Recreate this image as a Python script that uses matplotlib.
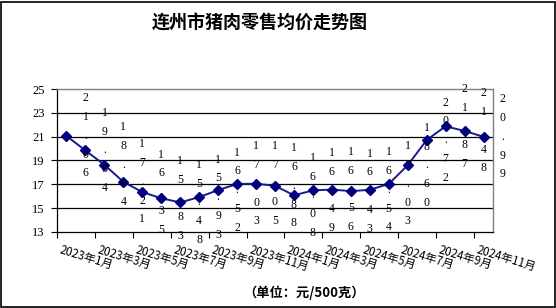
import matplotlib
matplotlib.use("Agg")
import matplotlib.pyplot as plt
import matplotlib.transforms as mtransforms
from matplotlib.patches import Rectangle

plt.rcParams['font.family'] = ['Noto Sans CJK SC', 'DejaVu Sans']

title = "连州市猪肉零售均价走势图"
unit = "（单位：元/500克）"
months = ["2023年1月", "2023年3月", "2023年5月", "2023年7月", "2023年9月", "2023年11月",
          "2024年1月", "2024年3月", "2024年5月", "2024年7月", "2024年9月", "2024年11月"]
prices = [21.06, 19.84, 18.64, 17.21, 16.35, 15.83, 15.48, 15.93, 16.52, 17.03, 17.05, 16.88,
          16.08, 16.49, 16.56, 16.43, 16.54, 17.03, 18.60, 20.72, 21.87, 21.48, 20.99]
yticks = [13, 15, 17, 19, 21, 23, 25]

W, H = 556, 308
fig = plt.figure(figsize=(W/100, H/100), dpi=100)
fig.patch.set_facecolor('white')
fig.patches.append(Rectangle((0.5/W, 1/H), (W-2)/W, (H-2.5)/H, transform=fig.transFigure,
                             fill=False, edgecolor='black', linewidth=1.2))

ax = fig.add_axes([57/W, 76/H, 436/W, 143/H])
n = len(prices)
x = list(range(n))
ax.set_xlim(-0.5, n - 0.5)
ax.set_ylim(13, 25)

for v in yticks[1:-1]:
    ax.axhline(v, color='black', linewidth=0.9, zorder=1)

ax.plot(x, prices, color='#1a1a8c', linewidth=1.4, marker='D', markersize=5,
        markerfacecolor='#000080', markeredgecolor='#000080', zorder=3)

# data labels (stacked characters), drawn one category to the right as in the source
for i, v in enumerate(prices):
    s = "\n".join(f"{v:.2f}")
    ax.text(i + 1, v, s, ha='center', va='center', fontsize=8.5, linespacing=1.75,
            family=['Liberation Serif', 'DejaVu Sans'], color='black', zorder=4,
            clip_on=False)

ax.set_yticks(yticks)
ax.set_yticklabels([str(t) for t in yticks], family=['Liberation Serif'], fontsize=9)
ax.tick_params(axis='y', direction='out', length=4, width=0.8, pad=5, colors='black')

tick_pos = [-0.5 + 2 * k for k in range(len(months))]
ax.set_xticks(tick_pos)
ax.set_xticklabels([])
ax.tick_params(axis='x', direction='out', length=4, width=0.8)

trans = mtransforms.blended_transform_factory(ax.transData, ax.transAxes)
for k, lab in enumerate(months):
    ax.text(tick_pos[k] + 0.25, -0.08, lab, transform=trans, rotation=-17,
            rotation_mode='anchor', ha='left', va='top', fontsize=8.3, clip_on=False)

for side in ['top', 'right']:
    ax.spines[side].set_color('#808080')
    ax.spines[side].set_linewidth(1.0)
for side in ['left', 'bottom']:
    ax.spines[side].set_color('black')
    ax.spines[side].set_linewidth(0.9)

fig.text(260/W, 1 - 23/H, title, ha='center', va='center', fontsize=13, fontweight='bold')
fig.text(304/W, 1 - 293/H, unit, ha='center', va='center', fontsize=9.5, fontweight='bold')

fig.savefig("out.png", dpi=100)
